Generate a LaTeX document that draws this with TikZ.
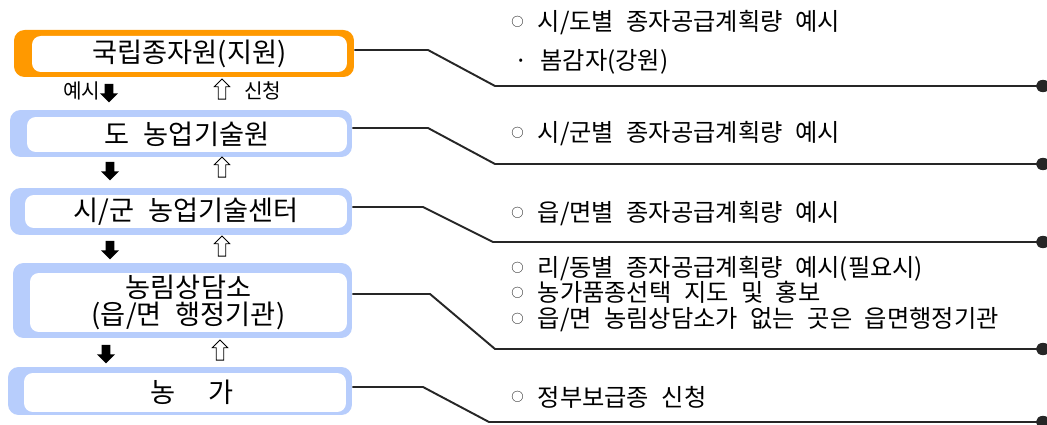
\documentclass[tikz,border=0pt]{standalone}
\usepackage{fontspec}
\newfontfamily\kr[WordSpace=2.3]{Noto Sans CJK KR}
\usetikzlibrary{positioning,shapes.arrows,arrows.meta}
\definecolor{orangeF}{RGB}{255,153,0}
\definecolor{blueF}{RGB}{183,205,252}
\newcommand{\bul}{\raisebox{2.4pt}{\fontsize{7}{7}\selectfont ○}\hspace{8pt}}
\tikzset{
	frame/.style={rounded corners=6pt, inner sep=0pt},
	inbox/.style={fill=white, rounded corners=5pt, inner sep=0pt, align=center, font=\kr\fontsize{15.5}{15.5}\selectfont},
	dnarrow/.style={single arrow, fill=black, inner sep=2.3pt, minimum height=0.37cm, single arrow head extend=2.7pt, shape border rotate=270},
	uparrow/.style={single arrow, draw=black, fill=white, line width=0.5pt, inner sep=1.9pt, minimum height=0.4cm, single arrow head extend=2.2pt, shape border rotate=90},
	lbl/.style={inner sep=0pt, font=\kr\fontsize{11.5}{11.5}\selectfont},
	note/.style={anchor=west, inner sep=0pt, align=left, font=\kr\fontsize{13.8}{14.6}\selectfont},
	lead/.style={draw=black!85, line width=1.1pt, -{Circle[length=8pt,width=7pt]}}
}
\begin{document}
\begin{tikzpicture}[x=0.02cm, y=-0.02cm]
		\useasboundingbox (0,0) rectangle (1047,425);
		\node[frame, fill=orangeF, minimum width=6.8cm, minimum height=0.94cm] (f1) at (184,53.5) {};
		\node[inbox, minimum width=6.3cm, minimum height=0.72cm] (n1) at (189.5,54) {국립종자원(지원)};
		\node[frame, fill=blueF, minimum width=6.84cm, minimum height=0.94cm] (f2) at (181,133.5) {};
		\node[inbox, minimum width=6.4cm, minimum height=0.7cm] (n2) at (187,134.5) {도 농업기술원};
		\node[frame, fill=blueF, minimum width=6.84cm, minimum height=0.94cm] (f3) at (181,211.5) {};
		\node[inbox, minimum width=6.44cm, minimum height=0.66cm] (n3) at (186,211.5) {시/군 농업기술센터};
		\node[frame, fill=blueF, minimum width=6.78cm, minimum height=1.5cm] (f4) at (182.5,300.5) {};
		\node[inbox, minimum width=6.34cm, minimum height=1.18cm] (n4) at (188.5,302.5) {농림상담소\\(읍/면 행정기관)};
		\node[frame, fill=blueF, minimum width=6.88cm, minimum height=0.96cm] (f5) at (180,391) {};
		\node[inbox, minimum width=6.44cm, minimum height=0.78cm] (n5) at (185,392.5) {\hspace{0.5em}농\hspace{1.2em}가};

		\node[dnarrow] (d1) at (109,91) {};
		\node[dnarrow] (d2) at (110,169) {};
		\node[dnarrow] (d3) at (110,248) {};
		\node[dnarrow] (d4) at (106,352) {};
		\node[uparrow] (u1) at (222,91) {};
		\node[uparrow] (u2) at (222,169) {};
		\node[uparrow] (u3) at (222,248) {};
		\node[uparrow] (u4) at (220,352) {};
		\node[lbl, left=2pt of d1] (l1) {예시};
		\node[lbl, right=10pt of u1] (l2) {신청};

		\node[note] (t1) at (511,23) {\bul 시/도별 종자공급계획량 예시};
		\node[note] (t1b) at (514,62) {· 봄감자(강원)};
		\node[note] (t2) at (511,134) {\bul 시/군별 종자공급계획량 예시};
		\node[note] (t3) at (511,214) {\bul 읍/면별 종자공급계획량 예시};
		\node[note] (t4) at (511,294) {\bul 리/동별 종자공급계획량 예시(필요시)\\\bul 농가품종선택 지도 및 홍보\\\bul 읍/면 농림상담소가 없는 곳은 읍면행정기관};
		\node[note] (t5) at (511,397) {\bul 정부보급종 신청};

		\coordinate (k1) at (428,50);
		\coordinate (b1) at (495,86);
		\coordinate (e1) at (1050,86);
		\coordinate (k2) at (428,128);
		\coordinate (b2) at (495,164);
		\coordinate (e2) at (1050,164);
		\coordinate (k3) at (423,207);
		\coordinate (b3) at (493,242);
		\coordinate (e3) at (1050,242);
		\coordinate (k4) at (430,294);
		\coordinate (b4) at (495,349);
		\coordinate (e4) at (1050,349);
		\coordinate (k5) at (423,387);
		\coordinate (b5) at (489,422);
		\coordinate (e5) at (1050,422);
		\draw[lead] (f1.east |- k1) -- (k1) -- (b1) -- (e1);
		\draw[lead] (f2.east |- k2) -- (k2) -- (b2) -- (e2);
		\draw[lead] (f3.east |- k3) -- (k3) -- (b3) -- (e3);
		\draw[lead] (f4.east |- k4) -- (k4) -- (b4) -- (e4);
		\draw[lead] (f5.east |- k5) -- (k5) -- (b5) -- (e5);
	\end{tikzpicture}
\end{document}
